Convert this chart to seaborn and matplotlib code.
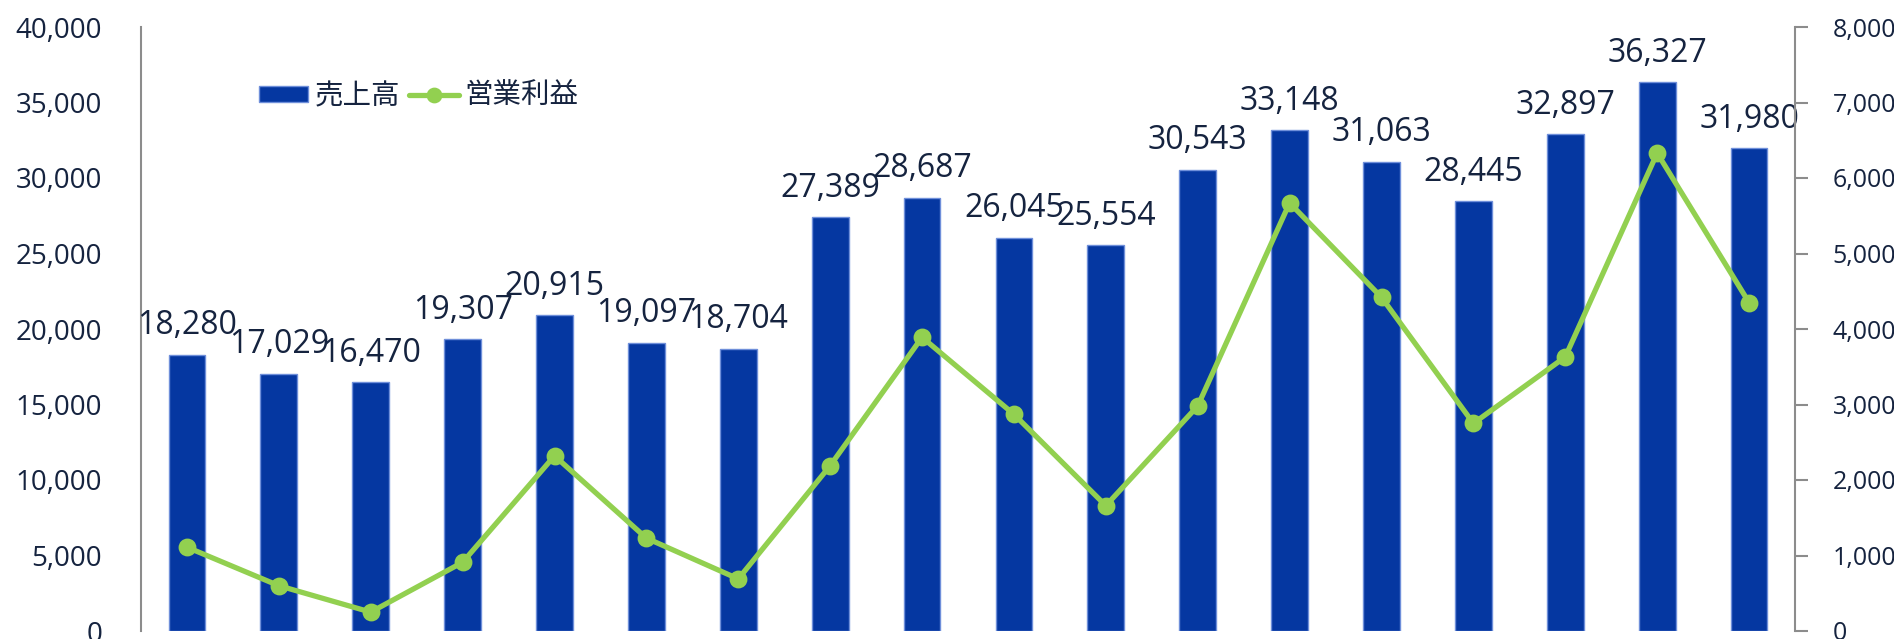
import matplotlib
matplotlib.use("Agg")
import matplotlib.pyplot as plt
import seaborn as sns
import pandas as pd
from matplotlib.ticker import FuncFormatter, FixedLocator

# ---- data ----
periods = ["P01", "P02", "P03", "P04", "P05", "P06", "P07", "P08", "P09",
           "P10", "P11", "P12", "P13", "P14", "P15", "P16", "P17", "P18"]
sales = [18280, 17029, 16470, 19307, 20915, 19097, 18704, 27389, 28687,
         26045, 25554, 30543, 33148, 31063, 28445, 32897, 36327, 31980]
op_profit = [1110, 600, 250, 910, 2320, 1230, 690, 2190, 3890,
             2870, 1660, 2980, 5670, 4420, 2750, 3630, 6330, 4350]
left_ticks = [0, 5000, 10000, 15000, 20000, 25000, 30000, 35000, 40000]
right_ticks = [0, 1000, 2000, 3000, 4000, 5000, 6000, 7000, 8000]
sales_label = "売上高"
profit_label = "営業利益"

df = pd.DataFrame({"period": periods, "sales": sales, "profit": op_profit})

BAR = "#0537A1"
BAR_EDGE = "#6F8FDA"
LINE = "#92D050"
TXT = "#15233F"
SPINE = "#8C8C8C"

sns.set_theme(style="white")
plt.rcParams["font.family"] = ["Open Sans", "Noto Sans CJK JP", "DejaVu Sans"]

fig = plt.figure(figsize=(18.94, 6.39), dpi=100)
ax = fig.add_axes([141 / 1894, 8 / 639, (1795 - 141) / 1894, (631 - 27) / 639])

sns.barplot(data=df, x="period", y="sales", ax=ax, color=BAR, width=0.40,
            edgecolor=BAR_EDGE, linewidth=1.0, saturation=1, label=sales_label)
if ax.get_legend() is not None:
    ax.get_legend().remove()
ax.set_ylim(0, 40000)
ax.set_xlim(-0.5, len(periods) - 0.5)
ax.yaxis.set_major_locator(FixedLocator(left_ticks))
ax.yaxis.set_major_formatter(FuncFormatter(lambda v, p: f"{v:,.0f}"))
ax.tick_params(axis="y", length=0, pad=28, labelsize=20, labelcolor=TXT)
ax.set_xticks([])
ax.set_xlabel("")
ax.set_ylabel("")
for s in ["top", "right", "bottom"]:
    ax.spines[s].set_visible(False)
ax.spines["left"].set_color(SPINE)
ax.spines["left"].set_linewidth(1.5)

ax.bar_label(ax.containers[0], labels=[f"{v:,}" for v in sales], padding=9,
             fontsize=23, color=TXT)

ax2 = ax.twinx()
sns.pointplot(data=df, x="period", y="profit", ax=ax2, color=LINE,
              markers="o", linestyles="-", markersize=10, linewidth=3.8,
              label=profit_label)
if ax2.get_legend() is not None:
    ax2.get_legend().remove()
ax2.set_ylim(0, 8000)
ax2.set_xlim(-0.5, len(periods) - 0.5)
ax2.yaxis.set_major_locator(FixedLocator(right_ticks))
ax2.yaxis.set_major_formatter(FuncFormatter(lambda v, p: f"{v:,.0f}"))
ax2.tick_params(axis="y", length=9, width=1.5, color=SPINE, pad=18,
                labelsize=18, labelcolor=TXT, right=True, labelright=True)
ax2.set_xticks([])
ax2.set_xlabel("")
ax2.set_ylabel("")
for s in ["top", "left", "bottom"]:
    ax2.spines[s].set_visible(False)
ax2.spines["right"].set_color(SPINE)
ax2.spines["right"].set_linewidth(1.5)

h1, l1 = ax.get_legend_handles_labels()
h2, l2 = ax2.get_legend_handles_labels()
leg = ax2.legend(h1 + h2, l1 + l2, loc="center left",
                 bbox_to_anchor=(233 / 1894, 1 - 96 / 639),
                 bbox_transform=fig.transFigure, ncol=2, frameon=False,
                 prop={"family": ["Noto Sans CJK JP"], "size": 20.5},
                 labelcolor=TXT, handlelength=1.75, handleheight=0.5,
                 handletextpad=0.22, columnspacing=0.3, borderpad=0.4,
                 markerscale=0.85)

fig.savefig("out.png", dpi=100)
